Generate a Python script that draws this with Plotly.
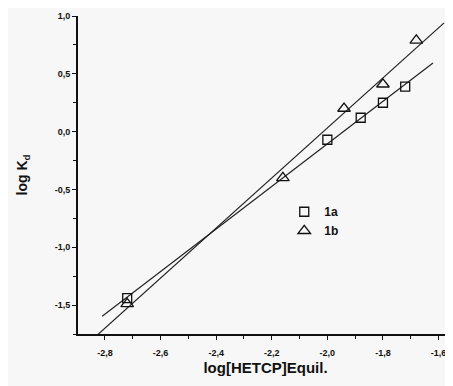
import numpy as np
import plotly.graph_objects as go

# Data
x_1a = [-2.72, -2.00, -1.88, -1.80, -1.72]
y_1a = [-1.44, -0.07, 0.12, 0.25, 0.39]
x_1b = [-2.72, -2.16, -1.94, -1.80, -1.68]
y_1b = [-1.49, -0.40, 0.20, 0.41, 0.79]
# extents of the fitted lines (x)
fit_1a_x = [-2.81, -1.62]
fit_1b_x = [-2.85, -1.58]

xtick_vals = [-2.8, -2.6, -2.4, -2.2, -2.0, -1.8, -1.6]
xtick_text = ["-2,8", "-2,6", "-2,4", "-2,2", "-2,0", "-1,8", "-1,6"]
ytick_vals = [-1.5, -1.0, -0.5, 0.0, 0.5, 1.0]
ytick_text = ["-1,5", "-1,0", "-0,5", "0,0", "0,5", "1,0"]

p1a = np.polyfit(x_1a, y_1a, 1)
p1b = np.polyfit(x_1b, y_1b, 1)
fx_a = np.array(fit_1a_x)
fx_b = np.array(fit_1b_x)

fig = go.Figure()
line_style = dict(color="#222", width=1.2)
fig.add_trace(go.Scatter(x=fx_a, y=np.polyval(p1a, fx_a), mode="lines",
                         line=line_style, showlegend=False, hoverinfo="skip"))
fig.add_trace(go.Scatter(x=fx_b, y=np.polyval(p1b, fx_b), mode="lines",
                         line=line_style, showlegend=False, hoverinfo="skip"))
fig.add_trace(go.Scatter(x=x_1a, y=y_1a, mode="markers", name="1a",
                         marker=dict(symbol="square-open", size=9, color="#111",
                                     line=dict(width=1.3, color="#111"))))
fig.add_trace(go.Scatter(x=x_1b, y=y_1b, mode="markers", name="1b",
                         marker=dict(symbol="triangle-up-open", size=11, color="#111",
                                     line=dict(width=1.3, color="#111"))))

font_family = "Liberation Sans, Arial, sans-serif"
# page body has an 8px margin, so the figure is drawn 8px smaller and offset
fig.update_layout(
    width=445, height=378,
    margin=dict(l=70, r=0, t=8, b=52, autoexpand=False),
    paper_bgcolor="#f7f7f7", plot_bgcolor="#f7f7f7",
    font=dict(family=font_family, color="#111"),
    showlegend=True,
    legend=dict(x=0.55, y=0.43, xanchor="left", yanchor="top",
                bgcolor="rgba(0,0,0,0)", font=dict(size=12, family=font_family, weight="bold"),
                itemwidth=30),
)
fig.update_xaxes(
    automargin=False,
    range=[-2.897, -1.548], tickvals=xtick_vals, ticktext=xtick_text,
    showgrid=False, zeroline=False, showline=True, linecolor="#111", linewidth=2,
    ticks="outside", ticklen=4, tickwidth=1.2, tickcolor="#111",
    minor=dict(dtick=0.1, tick0=-2.8, ticks="outside", ticklen=3, tickcolor="#111", showgrid=False),
    tickfont=dict(size=9, family=font_family, weight="bold"),
    ticklabelstandoff=5,
    title=dict(text="log[HETCP]Equil.", font=dict(size=15, family=font_family, weight="bold"), standoff=6),
)
fig.update_yaxes(
    automargin=False,
    range=[-1.75, 1.0], tickvals=ytick_vals, ticktext=ytick_text,
    showgrid=False, zeroline=False, showline=True, linecolor="#111", linewidth=2,
    ticks="outside", ticklen=4, tickwidth=1.2, tickcolor="#111",
    minor=dict(dtick=0.25, tick0=0, ticks="outside", ticklen=3, tickcolor="#111", showgrid=False),
    tickfont=dict(size=9, family=font_family, weight="bold"),
    title=dict(text="log K<sub>d</sub>", font=dict(size=14, family=font_family, weight="bold"), standoff=24),
)
fig.write_html("out.html")
